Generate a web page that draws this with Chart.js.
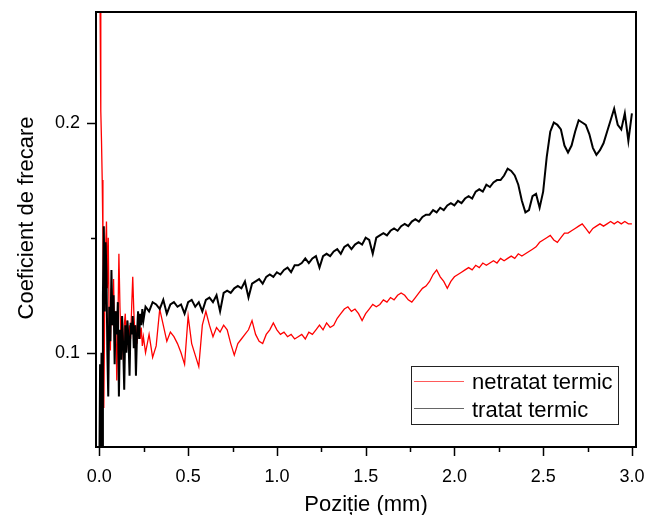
<!DOCTYPE html>
<html>
<head>
<meta charset="utf-8">
<script src="https://cdn.jsdelivr.net/npm/chart.js@4.4.0/dist/chart.umd.min.js"></script>
<style>
  html, body { margin: 0; padding: 0; background: #fff; }
</style>
</head>
<body>
<canvas id="frictionChart" width="645" height="515"></canvas>
<script>
// Position along the track (mm), shared by both series
const positions = [
  0, 0.004, 0.008, 0.012, 0.016, 0.02, 0.025, 0.03, 0.035, 0.04,
  0.045, 0.05, 0.056, 0.062, 0.068, 0.074, 0.08, 0.086, 0.092, 0.098,
  0.104, 0.11, 0.116, 0.122, 0.128, 0.134, 0.14, 0.146, 0.152, 0.158,
  0.164, 0.17, 0.176, 0.182, 0.188, 0.194, 0.2, 0.206, 0.212, 0.218,
  0.224, 0.23, 0.236, 0.242, 0.248,
  0.26, 0.28, 0.30, 0.32, 0.34, 0.36, 0.38, 0.40, 0.42, 0.44,
  0.46, 0.48, 0.50, 0.52, 0.54, 0.56, 0.58, 0.60, 0.62, 0.64,
  0.66, 0.68, 0.70, 0.72, 0.74, 0.76, 0.78, 0.80, 0.82, 0.84,
  0.86, 0.88, 0.90, 0.92, 0.94, 0.96, 0.98, 1.00, 1.02, 1.04,
  1.06, 1.08, 1.10, 1.12, 1.14, 1.16, 1.18, 1.20, 1.22, 1.24,
  1.26, 1.28, 1.30, 1.32, 1.34, 1.36, 1.38, 1.40, 1.42, 1.44,
  1.46, 1.48, 1.50, 1.52, 1.54, 1.56, 1.58, 1.60, 1.62, 1.64,
  1.66, 1.68, 1.70, 1.72, 1.74, 1.76, 1.78, 1.80, 1.82, 1.84,
  1.86, 1.88, 1.90, 1.92, 1.94, 1.96, 1.98, 2.00, 2.02, 2.04,
  2.06, 2.08, 2.10, 2.12, 2.14, 2.16, 2.18, 2.20, 2.22, 2.24,
  2.26, 2.28, 2.30, 2.32, 2.34, 2.36, 2.38, 2.40, 2.42, 2.44,
  2.46, 2.48, 2.50, 2.52, 2.54, 2.56, 2.58, 2.60, 2.62, 2.64,
  2.66, 2.68, 2.70, 2.72, 2.74, 2.76, 2.78, 2.80, 2.82, 2.84,
  2.86, 2.88, 2.90, 2.92, 2.94, 2.96, 2.98, 3.00
];

// netratat termic (red)
const netratat = [
  0.30, 0.25, 0.205, 0.192, 0.175, 0.150, 0.076, 0.118, 0.145, 0.157,
  0.128, 0.150, 0.108, 0.101, 0.128, 0.112, 0.132, 0.104, 0.118, 0.088,
  0.110, 0.143, 0.120, 0.105, 0.116, 0.097, 0.112, 0.117, 0.104, 0.114,
  0.101, 0.112, 0.106, 0.120, 0.133, 0.118, 0.108, 0.112, 0.104, 0.110,
  0.114, 0.106, 0.111, 0.103, 0.107,
  0.100, 0.108, 0.098, 0.103, 0.119, 0.112, 0.105, 0.109, 0.107, 0.104,
  0.100, 0.095, 0.116, 0.104, 0.099, 0.094, 0.112, 0.118, 0.112, 0.107,
  0.111, 0.109, 0.112, 0.110, 0.104, 0.099, 0.104, 0.106, 0.108, 0.110,
  0.114, 0.108, 0.105, 0.104, 0.108, 0.110, 0.113, 0.110, 0.108, 0.109,
  0.107, 0.108, 0.106, 0.107, 0.108, 0.106, 0.109, 0.108, 0.110, 0.112,
  0.110, 0.113, 0.111, 0.112, 0.115, 0.117, 0.119, 0.120, 0.118, 0.119,
  0.117, 0.114, 0.117, 0.119, 0.121, 0.120, 0.121, 0.123, 0.122, 0.124,
  0.123, 0.125, 0.126, 0.125, 0.123, 0.122, 0.124, 0.126, 0.128, 0.129,
  0.131, 0.134, 0.136, 0.133, 0.131, 0.128, 0.131, 0.133, 0.134, 0.135,
  0.136, 0.137, 0.136, 0.138, 0.137, 0.139, 0.138, 0.139, 0.140, 0.139,
  0.141, 0.140, 0.141, 0.142, 0.141, 0.143, 0.142, 0.143, 0.144, 0.145,
  0.146, 0.148, 0.149, 0.150, 0.151, 0.149, 0.148, 0.150, 0.152, 0.152,
  0.153, 0.154, 0.155, 0.156, 0.154, 0.152, 0.154, 0.155, 0.156, 0.155,
  0.156, 0.157, 0.156, 0.157, 0.156, 0.157, 0.156, 0.156
];

// tratat termic (black)
const tratat = [
  0.05, 0.095, 0.055, 0.10, 0.06, 0.125, 0.155, 0.118, 0.148, 0.135,
  0.100, 0.081, 0.120, 0.105, 0.136, 0.112, 0.125, 0.095, 0.118, 0.108,
  0.122, 0.081, 0.110, 0.097, 0.116, 0.103, 0.084, 0.112, 0.100, 0.114,
  0.106, 0.090, 0.113, 0.108, 0.116, 0.102, 0.112, 0.090, 0.108, 0.118,
  0.106, 0.117, 0.112, 0.119, 0.114,
  0.120, 0.118, 0.122, 0.121, 0.119, 0.123, 0.117, 0.121, 0.122, 0.120,
  0.121, 0.117, 0.122, 0.123, 0.120, 0.122, 0.118, 0.123, 0.124, 0.122,
  0.125, 0.118, 0.126, 0.127, 0.126, 0.128, 0.129, 0.128, 0.131, 0.124,
  0.130, 0.131, 0.132, 0.130, 0.133, 0.134, 0.133, 0.135, 0.134, 0.136,
  0.137, 0.135, 0.138, 0.138, 0.139, 0.141, 0.139, 0.141, 0.142, 0.137,
  0.142, 0.143, 0.142, 0.144, 0.145, 0.143, 0.146, 0.147, 0.145, 0.147,
  0.148, 0.147, 0.150, 0.149, 0.143, 0.150, 0.151, 0.152, 0.151, 0.153,
  0.154, 0.153, 0.155, 0.156, 0.155, 0.157, 0.158, 0.157, 0.159, 0.160,
  0.160, 0.162, 0.161, 0.163, 0.162, 0.164, 0.165, 0.164, 0.166, 0.165,
  0.167, 0.168, 0.167, 0.170, 0.171, 0.170, 0.173, 0.172, 0.174, 0.175,
  0.175, 0.177, 0.180, 0.179, 0.177, 0.173, 0.166, 0.161, 0.162, 0.168,
  0.169, 0.163, 0.170, 0.185, 0.196, 0.200, 0.199, 0.197, 0.190, 0.187,
  0.190, 0.196, 0.201, 0.200, 0.199, 0.195, 0.189, 0.186, 0.188, 0.191,
  0.196, 0.201, 0.206, 0.199, 0.197, 0.204, 0.192, 0.204
];

// Tick labels
const xTicks = [0, 0.5, 1.0, 1.5, 2.0, 2.5, 3.0];
const xMinorTicks = [0.25, 0.75, 1.25, 1.75, 2.25, 2.75];
const yTicks = [0.1, 0.2];
const yMinorTicks = [0.15];

const FONT = 'Arial, "Liberation Sans", sans-serif';

// no label overhang padding, the plot box is fixed
function noScalePadding(s) {
    s.paddingTop = 0;
    s.paddingBottom = 0;
    s.paddingLeft = 0;
    s.paddingRight = 0;
}

// Frame, ticks, axis titles and legend drawn on top, Origin style
const originFrame = {
    id: 'originFrame',
    afterDraw(chart) {
        const ctx = chart.ctx;
        const area = chart.chartArea;
        const xs = chart.scales.x;
        const ys = chart.scales.y;
        ctx.save();
        ctx.strokeStyle = '#000';

        // ticks
        ctx.lineWidth = 1.5;
        ctx.beginPath();
        xTicks.forEach(v => {
            const px = Math.round(xs.getPixelForValue(v)) + 0.5;
            ctx.moveTo(px, area.bottom);
            ctx.lineTo(px, area.bottom + 9);
        });
        xMinorTicks.forEach(v => {
            const px = Math.round(xs.getPixelForValue(v)) + 0.5;
            ctx.moveTo(px, area.bottom);
            ctx.lineTo(px, area.bottom + 5);
        });
        yTicks.forEach(v => {
            const py = Math.round(ys.getPixelForValue(v)) + 0.5;
            ctx.moveTo(area.left, py);
            ctx.lineTo(area.left - 9, py);
        });
        yMinorTicks.forEach(v => {
            const py = Math.round(ys.getPixelForValue(v)) + 0.5;
            ctx.moveTo(area.left, py);
            ctx.lineTo(area.left - 5, py);
        });
        ctx.stroke();

        // frame
        ctx.lineWidth = 2;
        ctx.strokeRect(area.left, area.top, area.right - area.left, area.bottom - area.top);

        // axis titles
        ctx.fillStyle = '#000';
        ctx.font = '22px ' + FONT;
        ctx.textAlign = 'center';
        ctx.textBaseline = 'alphabetic';
        ctx.fillText('Poziție (mm)', (area.left + area.right) / 2, 511);
        ctx.save();
        ctx.translate(33, 218);
        ctx.rotate(-Math.PI / 2);
        ctx.fillText('Coeficient de frecare', 0, 0);
        ctx.restore();

        // legend
        ctx.lineWidth = 1;
        ctx.strokeStyle = '#222';
        ctx.strokeRect(411.5, 366.5, 207, 58);
        const rows = [
            { ds: chart.data.datasets[0], y: 381.5, base: 388.5, sample: '#ff5a5a' },
            { ds: chart.data.datasets[1], y: 408.5, base: 416.5, sample: '#666' }
        ];
        ctx.textAlign = 'left';
        rows.forEach(r => {
            ctx.strokeStyle = r.sample;
            ctx.beginPath();
            ctx.moveTo(414, r.y);
            ctx.lineTo(464, r.y);
            ctx.stroke();
            ctx.fillStyle = '#000';
            ctx.fillText(r.ds.label, 472, r.base);
        });
        ctx.restore();
    }
};

const ctx = document.getElementById('frictionChart').getContext('2d');
const frictionChart = new Chart(ctx, {
    type: 'line',
    data: {
        datasets: [{
            label: 'netratat termic',
            data: positions.map((x, i) => ({ x: x, y: netratat[i] })),
            borderColor: '#ff0000',
            borderWidth: 1.3,
            pointRadius: 0,
            pointHoverRadius: 0,
            fill: false,
            order: 2
        }, {
            label: 'tratat termic',
            data: positions.map((x, i) => ({ x: x, y: tratat[i] })),
            borderColor: '#000000',
            borderWidth: 2,
            pointRadius: 0,
            pointHoverRadius: 0,
            fill: false,
            order: 1
        }]
    },
    options: {
        responsive: false,
        animation: false,
        layout: {
            autoPadding: false,
            padding: { left: 0, right: 9, top: 12, bottom: 0 }
        },
        plugins: {
            legend: { display: false },
            tooltip: { enabled: false }
        },
        scales: {
            x: {
                type: 'linear',
                min: -0.019,
                max: 3.023,
                bounds: 'data',
                grid: { display: false, drawTicks: false },
                border: { display: false },
                afterBuildTicks: s => { s.ticks = xTicks.map(v => ({ value: v })); },
                afterFit: s => { s.height = 68; noScalePadding(s); },
                ticks: {
                    color: '#000',
                    font: { family: FONT, size: 18 },
                    padding: 19,
                    maxRotation: 0,
                    autoSkip: false,
                    callback: v => v.toFixed(1)
                }
            },
            y: {
                type: 'linear',
                min: 0.0591,
                max: 0.248,
                bounds: 'data',
                grid: { display: false, drawTicks: false },
                border: { display: false },
                afterBuildTicks: s => { s.ticks = yTicks.map(v => ({ value: v })); },
                afterFit: s => { s.width = 96; noScalePadding(s); },
                ticks: {
                    color: '#000',
                    font: { family: FONT, size: 18 },
                    padding: 16,
                    autoSkip: false,
                    callback: v => v.toFixed(1)
                }
            }
        }
    },
    plugins: [originFrame]
});
</script>
</body>
</html>
